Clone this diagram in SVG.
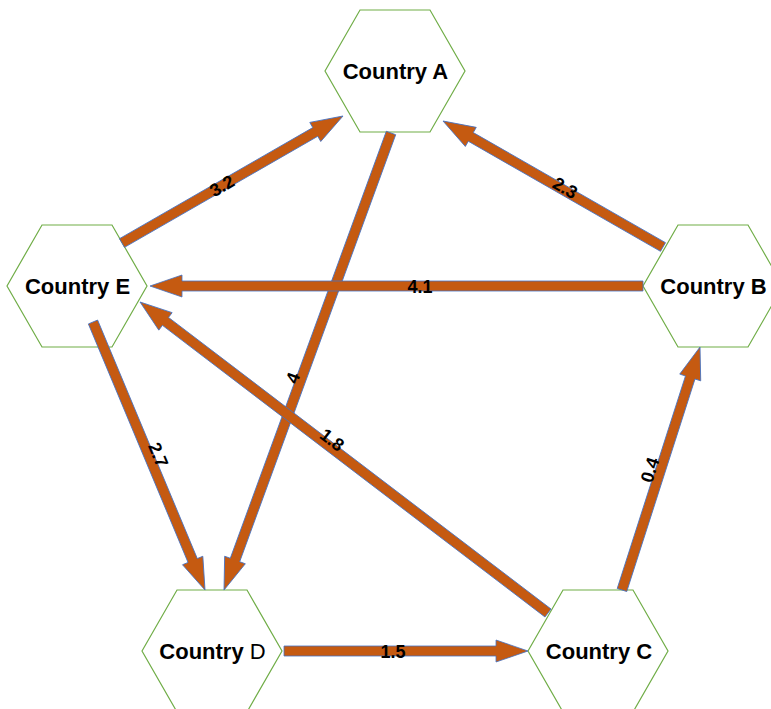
<svg xmlns="http://www.w3.org/2000/svg" width="771" height="709" viewBox="0 0 771 709">
<style>
.hex{fill:#ffffff;stroke:#70AD47;stroke-width:1.2}
.lbl{font-family:"Liberation Sans",Arial,sans-serif;font-weight:bold;font-size:22px;fill:#000;text-anchor:middle}
.arr{fill:#C55A11;stroke:#4472C4;stroke-width:0.8;stroke-linejoin:miter}
.w{font-family:"Liberation Sans",Arial,sans-serif;font-weight:bold;font-size:18px;fill:#000;text-anchor:middle}
</style>
<rect width="771" height="709" fill="#ffffff"/>
<g id="nodeA"><polygon class="hex" points="325,71 360,10 430,10 465,71 430,132 360,132"/><text class="lbl" x="395.5" y="79">Country A</text></g>
<g id="nodeE"><polygon class="hex" points="7,286 42,225 112,225 147,286 112,347 42,347"/><text class="lbl" x="77.5" y="294">Country E</text></g>
<g id="nodeB"><polygon class="hex" points="643,286 678,225 748,225 783,286 748,347 678,347"/><text class="lbl" x="713.5" y="294">Country B</text></g>
<g id="nodeD"><polygon class="hex" points="142,651 177,590 247,590 282,651 247,712 177,712"/><text class="lbl" x="212.5" y="659">Country <tspan font-weight="normal">D</tspan></text></g>
<g id="nodeC"><polygon class="hex" points="528,651 563,590 633,590 668,651 633,712 563,712"/><text class="lbl" x="599" y="659">Country C</text></g>
<g id="connectors">
<path class="arr" transform="translate(122,243) rotate(-29.88)" d="M0,-5 H222.9 V-11 L254.9,0 L222.9,11 V5 H0 Z"/>
<path class="arr" transform="translate(391,133) rotate(110.07)" d="M0,-5 H454.6 V-11 L486.6,0 L454.6,11 V5 H0 Z"/>
<path class="arr" transform="translate(663,247) rotate(-150.2)" d="M0,-5 H221.5 V-11 L253.5,0 L221.5,11 V5 H0 Z"/>
<path class="arr" transform="translate(643,286) rotate(180)" d="M0,-5 H461 V-11 L493,0 L461,11 V5 H0 Z"/>
<path class="arr" transform="translate(548,613) rotate(-142.68)" d="M0,-5 H481 V-11 L513,0 L481,11 V5 H0 Z"/>
<path class="arr" transform="translate(93,322) rotate(67.32)" d="M0,-5 H258.5 V-11 L290.5,0 L258.5,11 V5 H0 Z"/>
<path class="arr" transform="translate(284,651)" d="M0,-5 H212 V-11 L244,0 L212,11 V5 H0 Z"/>
<path class="arr" transform="translate(622,590) rotate(-72.2)" d="M0,-5 H223.2 V-11 L255.2,0 L223.2,11 V5 H0 Z"/>
<text class="w" transform="translate(222,186) rotate(-29.88)" y="6">3.2</text>
<text class="w" transform="translate(565,188) rotate(29.8)" y="6">2.3</text>
<text class="w" transform="translate(420,287)" y="6">4.1</text>
<text class="w" transform="translate(293,378) rotate(-69.93)" y="6">4</text>
<text class="w" transform="translate(332,440) rotate(37.32)" y="6">1.8</text>
<text class="w" transform="translate(158,455) rotate(67.32)" y="6">2.7</text>
<text class="w" transform="translate(650,470) rotate(-72.2)" y="6">0.4</text>
<text class="w" transform="translate(393,652)" y="6">1.5</text>
</g>
</svg>
